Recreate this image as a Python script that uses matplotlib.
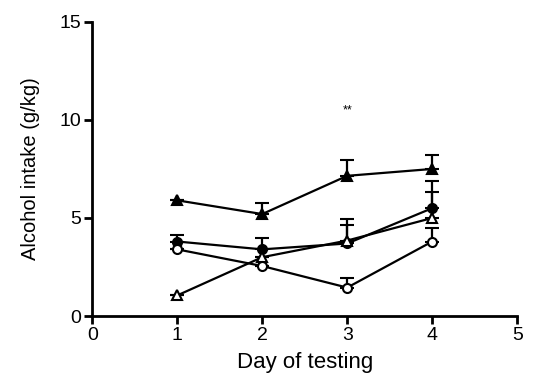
import matplotlib
matplotlib.use("Agg")
import matplotlib.pyplot as plt
import numpy as np

plt.rcParams['font.family'] = ['Liberation Sans', 'DejaVu Sans']

days = [1, 2, 3, 4]

filled_tri = [5.9, 5.2, 7.15, 7.5]
filled_tri_err = [0.0, 0.55, 0.8, 0.7]

filled_circ = [3.8, 3.4, 3.7, 5.5]
filled_circ_err = [0.35, 0.6, 1.25, 1.4]

open_tri = [1.05, 3.0, 3.85, 5.0]
open_tri_err = [0.0, 0.0, 0.8, 1.3]

open_circ = [3.4, 2.55, 1.45, 3.8]
open_circ_err = [0.0, 0.0, 0.5, 0.7]

xticks = [0, 1, 2, 3, 4, 5]
yticks = [0, 5, 10, 15]
sig_label = "**"
sig_day = 3
sig_y = 10.5

fig = plt.figure(figsize=(5.36, 3.84), dpi=100)
ax = fig.add_axes([0.172, 0.177, 0.793, 0.766])

series = [
    (filled_tri, filled_tri_err, '^', 'black'),
    (filled_circ, filled_circ_err, 'o', 'black'),
    (open_tri, open_tri_err, '^', 'white'),
    (open_circ, open_circ_err, 'o', 'white'),
]
for vals, errs, m, fc in series:
    ax.errorbar(days, vals, yerr=[np.zeros(len(errs)), errs], fmt='-', marker=m,
                color='black', mfc=fc, mec='black', mew=1.5, ms=6.5, lw=1.6,
                capsize=5, capthick=1.6, elinewidth=1.6, zorder=3)

ax.text(sig_day, sig_y, sig_label, ha='center', va='center', fontsize=9)

ax.set_xlim(0, 5)
ax.set_ylim(0, 15)
ax.set_xticks(xticks)
ax.set_yticks(yticks)
for s in ['top', 'right']:
    ax.spines[s].set_visible(False)
for s in ['left', 'bottom']:
    ax.spines[s].set_linewidth(2)
ax.tick_params(width=2, length=6, labelsize=14, direction='out', pad=2)
ax.set_xlabel('Day of testing', fontsize=16, labelpad=6)
ax.set_ylabel('Alcohol intake (g/kg)', fontsize=14.5, labelpad=14)

fig.savefig('out.png', dpi=100)
